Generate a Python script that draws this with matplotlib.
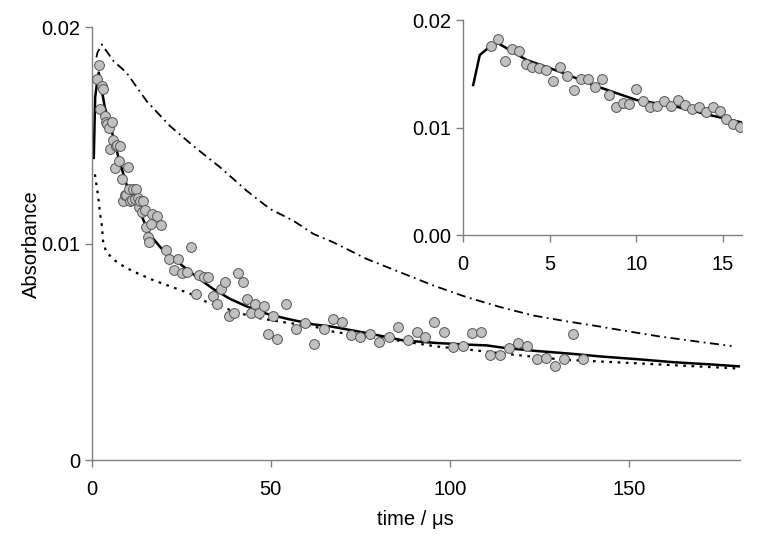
import matplotlib.pyplot as plt

plt.rcParams['font.family'] = ['Liberation Sans', 'DejaVu Sans']

# measured points, 0.4 us spacing at the start, sparser later
t_early = [1.6 + 0.4 * i for i in range(37)]
a_early = [0.01759, 0.01824, 0.01622, 0.01728, 0.01712, 0.01588, 0.0156, 0.01551,
           0.01536, 0.01437, 0.0156, 0.0148, 0.0135, 0.01449, 0.01455, 0.01381,
           0.01449, 0.013, 0.01195, 0.01226, 0.01223, 0.01356, 0.01251, 0.01195,
           0.01201, 0.01251, 0.01204, 0.01254, 0.0121, 0.0117, 0.01195, 0.01146,
           0.01195, 0.01155, 0.01077, 0.01031, 0.01009]
t_late = [16.6, 16.9, 18.2, 19.4, 20.7, 21.6, 23.1, 24.0, 25.3, 26.5, 27.7, 29.1,
          30.1, 31.4, 32.4, 33.8, 34.9, 36.2, 37.3, 38.4, 39.8, 40.9, 42.2, 43.3,
          44.4, 45.6, 46.8, 48.1, 49.2, 50.5, 51.7, 54.3, 57.1, 59.7, 62.1, 64.8,
          67.3, 69.9, 72.4, 75.0, 77.7, 80.3, 82.9, 85.5, 88.2, 90.8, 93.2, 95.7,
          98.4, 101.0, 103.6, 106.2, 108.7, 111.3, 113.9, 116.5, 119.1, 121.7,
          124.3, 126.9, 129.5, 132.0, 134.5, 137.2]
a_late = [0.01091, 0.01137, 0.01129, 0.01086, 0.00972, 0.0093, 0.00879, 0.0093,
          0.00865, 0.00868, 0.00983, 0.00768, 0.00853, 0.00845, 0.00845, 0.0076,
          0.00719, 0.00791, 0.00823, 0.00668, 0.0068, 0.00863, 0.00822, 0.00745,
          0.00679, 0.00719, 0.00679, 0.0071, 0.00581, 0.00664, 0.00561, 0.00719,
          0.00604, 0.00635, 0.00538, 0.00607, 0.00653, 0.00636, 0.00579, 0.00568,
          0.00581, 0.00548, 0.00571, 0.00614, 0.00556, 0.00591, 0.00571, 0.00637,
          0.00594, 0.00522, 0.00529, 0.00588, 0.00591, 0.00487, 0.00487, 0.00519,
          0.00541, 0.00525, 0.00469, 0.00473, 0.00436, 0.00465, 0.00581, 0.00467]

# model curves
t_fit = [0.58, 0.96, 1.54, 1.96, 3.65, 5.58, 7.5, 10.0, 12.3, 14.2, 16.3, 19.5,
         24.7, 29.4, 33.9, 38.6, 43.3, 48.9, 54.5, 61.9, 66.6, 77.8, 87.0, 96.4,
         105.6, 110.3, 115.0, 124.3, 133.6, 142.0, 152.6, 162.8, 173.0, 181.0]
a_fit = [0.01396, 0.01675, 0.01752, 0.0179, 0.0163, 0.0152, 0.01396, 0.01257,
         0.01195, 0.01118, 0.0104, 0.00977, 0.00906, 0.00845, 0.00791, 0.00745,
         0.0071, 0.00676, 0.00653, 0.00627, 0.00618, 0.00584, 0.00553, 0.00541,
         0.00533, 0.0053, 0.00519, 0.00504, 0.00492, 0.00479, 0.00466, 0.00452,
         0.00442, 0.00433]
t_dot = [0.9, 1.4, 1.8, 2.3, 2.8, 3.2, 4.1, 6.5, 9.3, 12.1, 16.8, 22.5, 28.9, 32.1,
         37.7, 45.1, 53.6, 61.9, 67.5, 85.2, 96.4, 105.6, 115.0, 124.3, 131.8,
         139.2, 152.6, 167.9, 181.0]
a_dot = [0.0132, 0.0126, 0.0122, 0.0114, 0.0109, 0.01006, 0.0096, 0.00922, 0.00891,
         0.00868, 0.00834, 0.00799, 0.0076, 0.0073, 0.00699, 0.0066, 0.00637,
         0.00618, 0.00593, 0.00553, 0.00525, 0.0051, 0.00492, 0.00476, 0.00464,
         0.00458, 0.00447, 0.00434, 0.00423]
t_dd = [1.3, 1.6, 2.8, 6.1, 9.7, 15.3, 21.8, 28.3, 35.9, 43.3, 49.8, 56.3, 61.9,
        67.5, 76.8, 86.1, 95.5, 104.7, 114.1, 123.3, 132.7, 140.1, 149.4, 158.7,
        168.1, 178.7]
a_dd = [0.0186, 0.01882, 0.0192, 0.01843, 0.0179, 0.01659, 0.01544, 0.01452,
        0.01352, 0.01244, 0.0116, 0.01106, 0.01045, 0.01006, 0.00929, 0.00868,
        0.00806, 0.00753, 0.00707, 0.00668, 0.00641, 0.00622, 0.00596, 0.00571,
        0.0055, 0.00527]

t_all = t_early + t_late
a_all = a_early + a_late

spine_col = '#808080'
mk = dict(marker='o', s=50, facecolor='#c0c0c0', edgecolor='#555555',
          linewidths=0.7, zorder=5)


def style_axes(ax):
    for s in ['top', 'right']:
        ax.spines[s].set_visible(False)
    for s in ['left', 'bottom']:
        ax.spines[s].set_color(spine_col)
        ax.spines[s].set_linewidth(1)
    ax.tick_params(direction='out', length=5, width=1, color=spine_col,
                   labelsize=14.5, labelcolor='black')
    ax.tick_params(axis='x', pad=9)


fig = plt.figure(figsize=(7.58, 5.42), dpi=100)

ax = fig.add_axes([0.121, 0.151, 0.855, 0.799])
ax.plot(t_dd, a_dd, color='black', lw=1.3, dashes=(5, 2.5, 1, 2.5))
ax.plot(t_dot, a_dot, color='black', lw=1.6, dashes=(1.2, 2.5))
ax.plot(t_fit, a_fit, color='black', lw=1.8)
ax.scatter(t_all, a_all, **mk)
ax.set_xlim(0, 181)
ax.set_ylim(0, 0.02)
ax.set_xticks([0, 50, 100, 150])
ax.set_yticks([0, 0.01, 0.02])
ax.set_yticklabels(['0', '0.01', '0.02'])
ax.set_xlabel('time / μs', fontsize=14.5, labelpad=8)
ax.set_ylabel('Absorbance', fontsize=14.5, labelpad=0)
style_axes(ax)

ins = fig.add_axes([0.611, 0.566, 0.368, 0.397])
ins.plot(t_fit, a_fit, color='black', lw=1.8)
ins.scatter(t_early, a_early, **mk)
ins.set_xlim(0, 16.1)
ins.set_ylim(0, 0.02)
ins.set_xticks([0, 5, 10, 15])
ins.set_yticks([0, 0.01, 0.02])
ins.set_yticklabels(['0.00', '0.01', '0.02'])
style_axes(ins)

fig.savefig('out.png', dpi=100)
